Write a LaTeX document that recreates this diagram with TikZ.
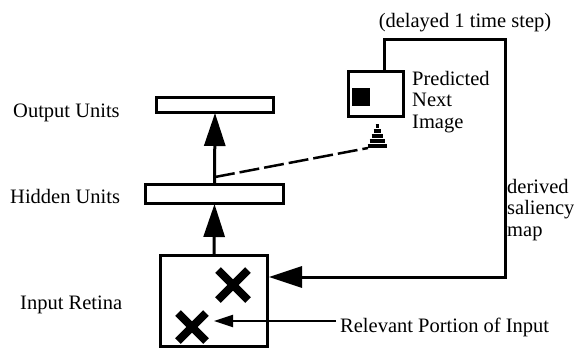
\documentclass[tikz,border=0pt]{standalone}
\usepackage{fontspec}
\setmainfont{Liberation Serif}
\usetikzlibrary{arrows.meta}
\begin{document}
\begin{tikzpicture}[x=1pt,y=-1pt,
  lbl/.style={inner sep=0pt, font=\fontsize{20.5}{21.5}\selectfont},
  unitbox/.style={draw, line width=3pt, inner sep=0pt, rectangle},
  bigarrow/.style={line width=3pt, -{Triangle[length=33pt,width=21pt]}, shorten >=-1pt},
  fbline/.style={line width=3pt},
  smallarrow/.style={line width=2pt, -{Triangle[length=19pt,width=12pt]}},
  xmark/.style={line width=8pt, line cap=butt},
  conebar/.style={line width=3.2pt},
  dashline/.style={line width=2.5pt, dash pattern=on 20pt off 5pt}
]
\useasboundingbox (0,0) rectangle (574,351);

% unit boxes
\node[unitbox, minimum width=117pt, minimum height=15pt] (out) at (215,105) {};
\node[unitbox, minimum width=138pt, minimum height=19pt] (hid) at (214.5,194) {};
\node[unitbox, minimum width=107pt, minimum height=91pt] (ret) at (214,301) {};
\node[unitbox, minimum width=55pt, minimum height=45pt] (pred) at (376,94) {};
\node[fill, inner sep=0pt, minimum size=18pt] (sq) at (361,97) {};

% labels
\node[lbl, anchor=base west] (outl) at (13,117) {Output Units};
\node[lbl, anchor=base west] (hidl) at (10,203) {Hidden Units};
\node[lbl, anchor=base west] (retl) at (20,309) {Input Retina};
\node[lbl, anchor=base west] (rell) at (340,332) {Relevant Portion of Input};
\node[lbl, anchor=base] (dell) at (465,27) {(delayed 1 time step)};
\node[lbl, anchor=north west, align=left] (predl) at (412,71) {Predicted\\Next\\Image};
\node[lbl, anchor=north west, align=left] (salil) at (507,179) {derived\\saliency\\map};

% feed-forward arrows
\draw[bigarrow] (ret.north) -- (hid.south);
\draw[bigarrow] (hid.north) -- (out.south);

% feedback loop
\coordinate (rc) at (505,39);
\draw[fbline, -{Triangle[length=33pt,width=21pt]}] ([xshift=8pt]pred.north) |- (rc) |- ([yshift=24pt]ret.east);

% X marks
\coordinate (x1) at (233,285);
\coordinate (x2) at (192,327);
\draw[xmark] ([shift={(-15,-15)}]x1) -- ([shift={(15,15)}]x1);
\draw[xmark] ([shift={(-15,15)}]x1) -- ([shift={(15,-15)}]x1);
\draw[xmark] ([shift={(-14,-14)}]x2) -- ([shift={(14,14)}]x2);
\draw[xmark] ([shift={(-14,14)}]x2) -- ([shift={(14,-14)}]x2);

% relevant portion arrow
\draw[smallarrow] ([xshift=-4pt]rell.west |- 0,321) -- ([xshift=22pt]x2 |- 0,321);

% striped cone under predicted box
\coordinate (cone) at (377,125);
\foreach \dy/\w in {1/1.5, 6/3.5, 11/5.5, 16/7.5, 21/9.5} {
  \draw[conebar] ([shift={(-\w,\dy)}]cone) -- ([shift={(\w,\dy)}]cone);
}
\coordinate (conebase) at (368,148);
\coordinate (tap) at (215,177);
\draw[dashline] (tap) -- (conebase);
\end{tikzpicture}
\end{document}
